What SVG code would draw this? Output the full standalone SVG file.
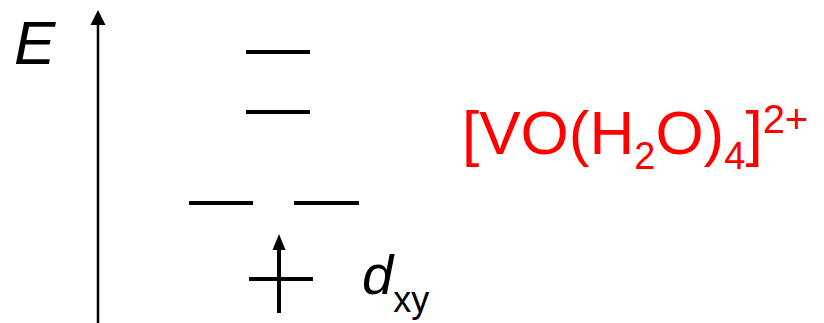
<svg xmlns="http://www.w3.org/2000/svg" width="824" height="323" viewBox="0 0 824 323">
<style>
.lvl{stroke:#000;stroke-width:4;fill:none}
.ax{stroke:#000;stroke-width:2.5;fill:none}
.t{font-family:"Liberation Sans",Arial,sans-serif;fill:#000}
.red{font-family:"Liberation Sans",Arial,sans-serif;fill:#ff0000}
</style>
<g id="connectors">
<line class="ax" x1="98" y1="323" x2="98" y2="24"/>
<path d="M90.5,25 L98,10 L105.5,25 Z" fill="#000"/>
</g>
<g id="axis-label"><text class="t" x="14" y="64" font-size="62" font-style="italic">E</text></g>
<g id="level-1"><line class="lvl" x1="246" y1="52" x2="310" y2="52"/></g>
<g id="level-2"><line class="lvl" x1="246" y1="112" x2="310" y2="112"/></g>
<g id="level-3a"><line class="lvl" x1="189" y1="203" x2="253" y2="203"/></g>
<g id="level-3b"><line class="lvl" x1="294" y1="203" x2="359" y2="203"/></g>
<g id="level-dxy">
<line class="lvl" x1="249" y1="279" x2="313" y2="279"/>
<line class="lvl" x1="279" y1="313" x2="279" y2="248"/>
<path d="M272.5,250 L279,234 L285.5,250 Z" fill="#000"/>
<text class="t" x="362" y="294" font-size="56"><tspan font-style="italic">d</tspan><tspan font-size="36" y="312">xy</tspan></text>
</g>
<g id="formula">
<text class="red" x="462" y="154" font-size="62">[VO(H<tspan font-size="38" y="169">2</tspan><tspan y="154">O)</tspan><tspan font-size="38" y="169">4</tspan><tspan y="154">]</tspan><tspan font-size="40" y="133">2+</tspan></text>
</g>
</svg>
